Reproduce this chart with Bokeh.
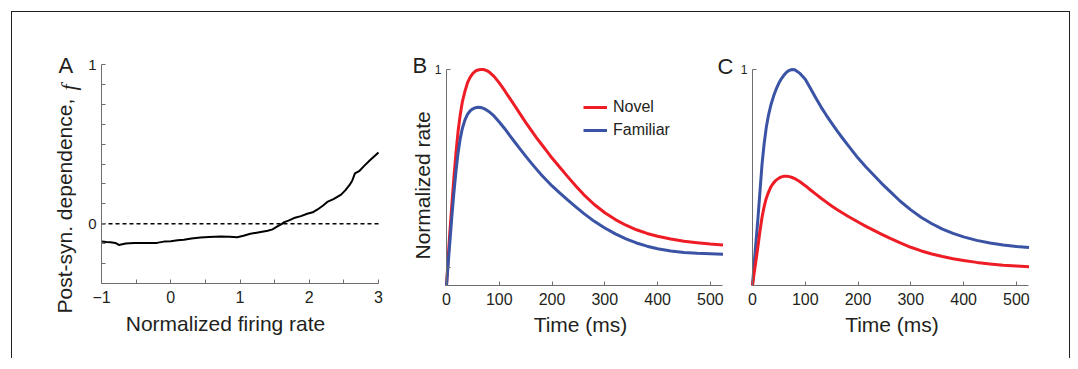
import math
from bokeh.plotting import figure
from bokeh.models import (Range1d, FixedTicker, Label, Legend, LegendItem,
                          LinearAxis)
from bokeh.embed import file_html
from bokeh.resources import INLINE

# ---------------- data ----------------
# Panel A: post-synaptic dependence f vs normalized firing rate
rate_a = [-1.0, -0.93, -0.87, -0.8, -0.75, -0.65, -0.53, -0.4, -0.2, -0.1, 0.0, 0.1,
          0.19, 0.3, 0.43, 0.55, 0.72, 0.85, 0.96, 1.05, 1.15, 1.28, 1.40, 1.47,
          1.54, 1.60, 1.64, 1.70, 1.78, 1.88, 1.97, 2.05, 2.12, 2.2, 2.26, 2.35,
          2.46, 2.52, 2.58, 2.62, 2.66, 2.72, 2.79, 2.88, 3.0]
post_f = [-0.112, -0.115, -0.116, -0.12, -0.133, -0.124, -0.12, -0.12, -0.12, -0.112,
          -0.11, -0.104, -0.10, -0.092, -0.086, -0.083, -0.08, -0.082, -0.084, -0.075,
          -0.063, -0.053, -0.044, -0.035, -0.017, -0.002, 0.01, 0.02, 0.036, 0.048,
          0.063, 0.072, 0.09, 0.115, 0.137, 0.155, 0.183, 0.21, 0.242, 0.27, 0.316,
          0.33, 0.362, 0.40, 0.448]
zero_level = [0, 0]

# Panels B and C share one time grid (ms)
time_ms = [0, 3, 6, 10, 14, 18, 22, 26, 30, 35, 40, 45, 50, 55, 60, 65, 70, 75, 80,
           90, 100, 110, 120, 130, 140, 150, 160, 170, 180, 190, 200, 215, 230, 245,
           260, 280, 300, 320, 340, 360, 380, 400, 425, 450, 475, 500, 524]
novel_b = [0, 0.12, 0.235, 0.37, 0.5, 0.615, 0.715, 0.79, 0.85, 0.9, 0.94, 0.965,
           0.982, 0.993, 0.998, 1.0, 1.0, 0.996, 0.99, 0.968, 0.938, 0.903, 0.866,
           0.83, 0.792, 0.755, 0.72, 0.686, 0.654, 0.622, 0.59, 0.546, 0.503, 0.461,
           0.421, 0.375, 0.337, 0.305, 0.279, 0.258, 0.241, 0.228, 0.215, 0.205,
           0.198, 0.192, 0.188]
familiar_b = [0, 0.095, 0.19, 0.315, 0.43, 0.53, 0.615, 0.68, 0.727, 0.767, 0.793,
              0.809, 0.818, 0.823, 0.825, 0.824, 0.82, 0.814, 0.806, 0.785, 0.757,
              0.727, 0.694, 0.662, 0.63, 0.599, 0.569, 0.54, 0.512, 0.486, 0.461,
              0.428, 0.395, 0.364, 0.334, 0.297, 0.266, 0.239, 0.216, 0.197, 0.182,
              0.17, 0.16, 0.153, 0.149, 0.147, 0.145]
familiar_c = [0, 0.095, 0.185, 0.3, 0.43, 0.56, 0.655, 0.73, 0.785, 0.837, 0.877,
              0.91, 0.937, 0.958, 0.975, 0.988, 0.996, 1.0, 0.999, 0.982, 0.955,
              0.912, 0.868, 0.826, 0.788, 0.752, 0.717, 0.684, 0.652, 0.621, 0.59,
              0.549, 0.51, 0.472, 0.437, 0.39, 0.35, 0.315, 0.286, 0.261, 0.241,
              0.225, 0.209, 0.197, 0.188, 0.181, 0.176]
novel_c = [0, 0.055, 0.105, 0.175, 0.25, 0.315, 0.365, 0.403, 0.43, 0.458, 0.475,
           0.488, 0.497, 0.503, 0.506, 0.506, 0.504, 0.5, 0.495, 0.48, 0.462, 0.442,
           0.423, 0.404, 0.386, 0.368, 0.352, 0.337, 0.322, 0.308, 0.294, 0.274,
           0.255, 0.237, 0.219, 0.197, 0.177, 0.16, 0.146, 0.134, 0.124, 0.116,
           0.107, 0.1, 0.094, 0.09, 0.087]

series_labels = ["Novel", "Familiar"]
x_ticks_a = [-1, -0.5, 0, 0.5, 1, 1.5, 2, 2.5, 3]
x_tick_labels_a = {-1: "\u22121", 0: "0", 1: "1", 2: "2", 3: "3"}
y_ticks_a = [-0.25, -0.125, 0, 0.125, 0.25, 0.375, 0.5, 0.625, 0.75, 0.875, 1]
y_tick_labels_a = {0: "0", 1: "1"}
time_ticks = [0, 100, 200, 300, 400, 500]
rate_ticks = [0.083, 1]
rate_tick_labels = {1: "1"}

# ---------------- layout geometry (page pixels) ----------------
FONT = "Liberation Sans"
TXT = "#231F20"
AXC = "#6D6E71"
RED = "#EE1C25"
BLUE = "#3A53A4"
CL, CT, W, H = 12, 11, 1059, 347           # canvas left/top on the page, size
CR, CB = CL + W, CT + H

# per panel: data limits and the page pixels where the axes end
PANELS = {
    "default": dict(x=(-1, 3), px=(101, 378), y=(-0.375, 1), py=(282, 63)),
    "b": dict(x=(0, 523), px=(446, 722), y=(0, 1), py=(284, 68)),
    "c": dict(x=(0, 523), px=(752, 1028), y=(0, 1), py=(284, 68)),
}


def x_range_of(g):
    (d0, d1), (p0, p1) = g["x"], g["px"]
    s = (d1 - d0) / (p1 - p0)
    return Range1d(d0 - (p0 - CL) * s, d1 + (CR - p1) * s)


def y_range_of(g):
    (d0, d1), (p0, p1) = g["y"], g["py"]
    s = (d1 - d0) / (p0 - p1)
    return Range1d(d0 - (CB - p0) * s, d1 + (p1 - CT) * s)


def to_data(name, px, py):
    g = PANELS[name]
    (x0, x1), (p0, p1) = g["x"], g["px"]
    (y0, y1), (q0, q1) = g["y"], g["py"]
    return (x0 + (px - p0) * (x1 - x0) / (p1 - p0),
            y0 + (q0 - py) * (y1 - y0) / (q0 - q1))


p = figure(width=W, height=H, x_range=x_range_of(PANELS["default"]),
           y_range=y_range_of(PANELS["default"]),
           output_backend="svg", toolbar_location=None,
           x_axis_location=None, y_axis_location=None,
           min_border=0, min_border_left=0, min_border_right=0,
           min_border_top=0, min_border_bottom=0)
p.extra_x_ranges = {k: x_range_of(v) for k, v in PANELS.items() if k != "default"}
p.extra_y_ranges = {k: y_range_of(v) for k, v in PANELS.items() if k != "default"}
p.outline_line_color = None
p.xgrid.visible = False
p.ygrid.visible = False
p.background_fill_color = "white"
p.border_fill_color = "white"
p.margin = (11, 0, 0, 11)
p.styles = {"border-top": "1px solid #231F20", "border-left": "1px solid #231F20",
            "border-right": "1px solid #231F20"}


def style_axis(ax, size):
    ax.axis_line_color = AXC
    ax.axis_line_width = 1
    ax.major_tick_line_color = AXC
    ax.minor_tick_line_color = None
    ax.major_tick_in = 4
    ax.major_tick_out = 0
    ax.major_label_text_font = FONT
    ax.major_label_text_color = TXT
    ax.major_label_text_font_size = size


def add_axes(name, xticks, xlabels, yticks, ylabels, ysize):
    g = PANELS[name]
    xa = LinearAxis(x_range_name=name, y_range_name=name, fixed_location=g["y"][0],
                    bounds=g["x"], ticker=FixedTicker(ticks=xticks),
                    major_label_standoff=7)
    if xlabels is not None:
        xa.major_label_overrides = {k: xlabels.get(k, "") for k in xticks}
    style_axis(xa, "16px")
    p.add_layout(xa, "below")
    ya = LinearAxis(x_range_name=name, y_range_name=name, fixed_location=g["x"][0],
                    bounds=g["y"], ticker=FixedTicker(ticks=yticks),
                    major_label_standoff=5)
    ya.major_label_overrides = {k: ylabels.get(k, "") for k in yticks}
    style_axis(ya, ysize)
    p.add_layout(ya, "left")


def add_text(name, px, py, text, size, angle=0.0, align="left",
             baseline="middle", font=FONT, style="normal"):
    x, y = to_data(name, px, py)
    p.add_layout(Label(x=x, y=y, x_range_name=name, y_range_name=name, text=text,
                       angle=angle, text_align=align, text_baseline=baseline,
                       text_font=font, text_font_style=style,
                       text_font_size=size, text_color=TXT))


# ---------------- Panel A ----------------
add_axes("default", x_ticks_a, x_tick_labels_a, y_ticks_a, y_tick_labels_a, "15px")
p.line([rate_a[0], rate_a[-1]], zero_level, line_color="black", line_width=1.5,
       line_dash="4 3")
p.line(rate_a, post_f, line_color="black", line_width=2, line_join="round")
add_text("default", 58, 63.5, "A", "22px")
add_text("default", 64, 312, "Post-syn. dependence,", "21px", angle=math.pi / 2)
add_text("default", 68, 83, "f", "22px", angle=math.pi / 2, align="right",
         font="Liberation Serif", style="italic")
add_text("default", 225, 322, "Normalized firing rate", "21px", align="center")

# ---------------- Panel B ----------------
add_axes("b", time_ticks, None, rate_ticks, rate_tick_labels, "12px")
rbn = p.line(time_ms, novel_b, x_range_name="b", y_range_name="b",
             line_color=RED, line_width=3, line_join="round")
rbf = p.line(time_ms, familiar_b, x_range_name="b", y_range_name="b",
             line_color=BLUE, line_width=3, line_join="round")
legend = Legend(items=[LegendItem(label=series_labels[0], renderers=[rbn]),
                       LegendItem(label=series_labels[1], renderers=[rbf])],
                location=(583 - CL, CB - 139), border_line_color=None,
                background_fill_alpha=0, padding=0, margin=0, spacing=3,
                glyph_width=24, glyph_height=20, label_height=20,
                label_standoff=6, label_text_font=FONT,
                label_text_font_size="16px", label_text_color=TXT)
p.add_layout(legend)
add_text("b", 412, 64, "B", "22px")
add_text("b", 422, 258, "Normalized rate", "21px", angle=math.pi / 2)
add_text("b", 580, 322.5, "Time (ms)", "21px", align="center")

# ---------------- Panel C ----------------
add_axes("c", time_ticks, None, [1], rate_tick_labels, "12px")
p.line(time_ms, familiar_c, x_range_name="c", y_range_name="c",
       line_color=BLUE, line_width=3, line_join="round")
p.line(time_ms, novel_c, x_range_name="c", y_range_name="c",
       line_color=RED, line_width=3, line_join="round")
add_text("c", 717, 65, "C", "22px")
add_text("c", 891.5, 322.5, "Time (ms)", "21px", align="center")

open("out.html", "w").write(file_html(p, INLINE))
